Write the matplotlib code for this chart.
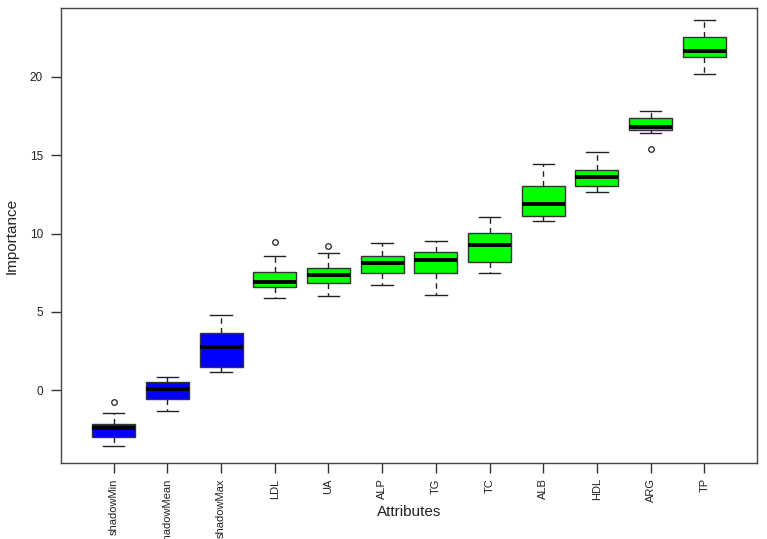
import matplotlib
matplotlib.use('Agg')
import matplotlib.pyplot as plt

plt.rcParams['font.family'] = ['Liberation Sans', 'DejaVu Sans']

names = ['shadowMin', 'shadowMean', 'shadowMax', 'LDL', 'UA', 'ALP',
         'TG', 'TC', 'ALB', 'HDL', 'ARG', 'TP']
whislo = [-3.60, -1.36, 1.15, 5.88, 6.00, 6.69, 6.07, 7.45, 10.77, 12.67, 16.44, 20.17]
q1 = [-2.99, -0.56, 1.47, 6.60, 6.86, 7.45, 7.45, 8.20, 11.10, 13.04, 16.61, 21.28]
med = [-2.45, 0.08, 2.77, 6.88, 7.33, 8.13, 8.33, 9.27, 11.87, 13.61, 16.83, 21.68]
q3 = [-2.17, 0.53, 3.66, 7.52, 7.77, 8.58, 8.82, 10.01, 13.05, 14.06, 17.40, 22.56]
whishi = [-1.49, 0.85, 4.79, 8.58, 8.77, 9.39, 9.52, 11.05, 14.44, 15.19, 17.83, 23.62]
fliers = [[-0.75], [], [], [9.48], [9.20], [], [], [], [], [], [15.38], []]
colors = ['blue', 'blue', 'blue'] + ['#00ff00'] * 9

stats = []
for i in range(len(names)):
    stats.append(dict(label=names[i], whislo=whislo[i], q1=q1[i], med=med[i],
                      q3=q3[i], whishi=whishi[i], fliers=fliers[i]))

fig = plt.figure(figsize=(7.67, 5.39), dpi=100)
ax = fig.add_axes([0.0795, 0.141, 0.9075, 0.844])

bp = ax.bxp(stats, positions=range(1, 13), widths=0.8, patch_artist=True,
            boxprops=dict(edgecolor='#333333', linewidth=1.0),
            medianprops=dict(color='black', linewidth=2.8, solid_capstyle='butt'),
            whiskerprops=dict(color='#222222', linewidth=1.0, linestyle=(0, (4, 3))),
            capprops=dict(color='#222222', linewidth=1.0),
            flierprops=dict(marker='o', markerfacecolor='none', markeredgecolor='#222222',
                            markersize=4, markeredgewidth=0.9))
for b, c in zip(bp['boxes'], colors):
    b.set_facecolor(c)
for cap in bp['caps']:
    x = cap.get_xdata()
    m = (x[0] + x[1]) / 2
    cap.set_xdata([m - 0.2, m + 0.2])

ax.set_xlim(0.02, 12.98)
ax.set_ylim(-4.66, 24.4)
ax.set_yticks([0, 5, 10, 15, 20])
ax.set_xticks(range(1, 13))
ax.set_xticklabels(names, rotation=90, fontsize=8, color='#222222')
ax.tick_params(axis='y', labelsize=8.5, labelcolor='#222222', pad=6)
ax.tick_params(axis='x', pad=4)
ax.tick_params(direction='out', length=7, width=1, color='#333333')
for s in ax.spines.values():
    s.set_color('#444444')
    s.set_linewidth(1.0)

ax.set_xlabel('Attributes', fontsize=11, color='#222222')
ax.set_ylabel('Importance', fontsize=11, color='#222222', labelpad=8)
ax.xaxis.set_label_coords(0.5, -0.092)

fig.savefig('out.png', dpi=100)
